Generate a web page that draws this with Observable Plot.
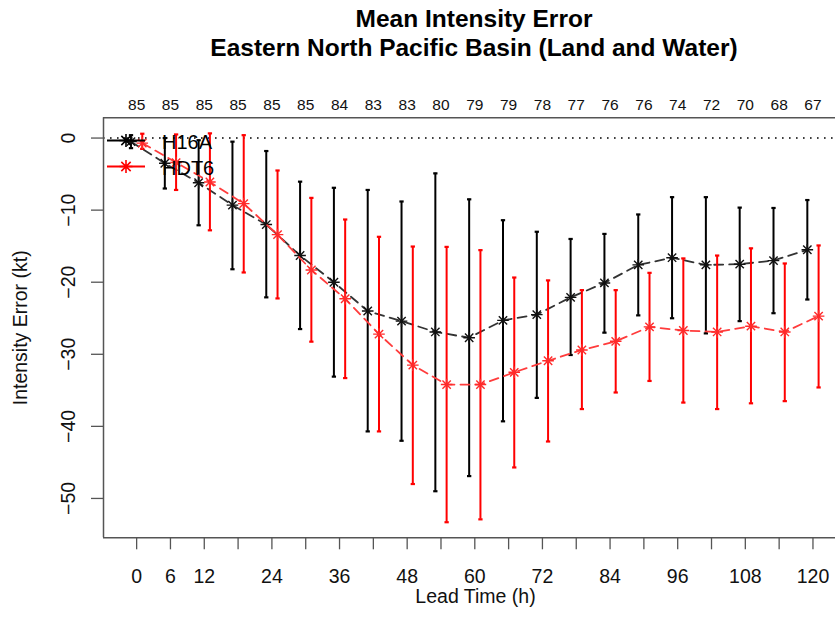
<!DOCTYPE html>
<html><head><meta charset="utf-8">
<script src="https://cdn.jsdelivr.net/npm/d3@7"></script>
<script src="https://cdn.jsdelivr.net/npm/@observablehq/plot@0.6"></script>
<style>
body{margin:0;background:#fff;font-family:"Liberation Sans",Arial,Helvetica,sans-serif}
#chart svg{display:block}
</style>
</head><body><div id="chart"></div>
<script>
// ---- data ----
const leadTimes = [0,6,12,18,24,30,36,42,48,54,60,66,72,78,84,90,96,102,108,114,120];
const caseCounts = [85,85,85,85,85,85,84,83,83,80,79,79,78,77,76,76,74,72,70,68,67];
const xTickLabels = [0,6,12,24,36,48,60,72,84,96,108,120];
const yTicks = [0,-10,-20,-30,-40,-50];

const h16aMean  = [-0.5,-3.5,-6.2,-9.3,-12.0,-16.3,-20.0,-24.0,-25.4,-26.9,-27.7,-25.3,-24.5,-22.1,-20.1,-17.6,-16.6,-17.6,-17.5,-17.0,-15.5];
const h16aUpper = [0.4,0.0,-0.3,-0.5,-1.8,-6.05,-6.9,-7.2,-8.8,-4.9,-8.5,-11.4,-13.0,-14.0,-13.3,-10.6,-8.2,-8.2,-9.65,-9.7,-8.6];
const h16aLower = [-1.4,-7.0,-12.1,-18.2,-22.1,-26.5,-33.1,-40.7,-42.0,-49.0,-46.9,-39.3,-36.05,-30.1,-27.0,-24.6,-25.0,-27.1,-25.4,-24.3,-22.4];

const hdt6Mean  = [-0.7,-3.4,-6.1,-9.1,-13.4,-18.3,-22.3,-27.2,-31.5,-34.2,-34.2,-32.5,-30.9,-29.4,-28.2,-26.2,-26.7,-26.9,-26.1,-26.9,-24.7];
const hdt6Upper = [0.6,0.5,0.65,0.4,-4.5,-8.3,-11.3,-13.7,-15.05,-15.1,-15.55,-19.35,-19.75,-21.1,-21.1,-18.7,-16.7,-16.3,-15.3,-17.4,-14.9];
const hdt6Lower = [-1.5,-7.2,-12.8,-18.65,-22.25,-28.25,-33.3,-40.7,-48.0,-53.3,-52.9,-45.7,-42.1,-37.6,-35.3,-33.7,-36.7,-37.6,-36.8,-36.5,-34.6];

const seriesNames = ["H16A","HDT6"];

// ---- styles ----
const styles = {
  H16A: {offset:-1, line:"#333333", star:"#111111", bar:"#000000"},
  HDT6: {offset: 1, line:"#ff3c3c", star:"#ff2a2a", bar:"#ff0000"}
};
const seriesData = {
  H16A: {mean:h16aMean, hi:h16aUpper, lo:h16aLower},
  HDT6: {mean:hdt6Mean, hi:hdt6Upper, lo:hdt6Lower}
};

// R pch=8 style star (+ and x)
const star8 = {
  draw(ctx, size) {
    const r = Math.sqrt(size / Math.PI);
    const d = r * 0.72;
    ctx.moveTo(-r, 0); ctx.lineTo(r, 0);
    ctx.moveTo(0, -r); ctx.lineTo(0, r);
    ctx.moveTo(-d, -d); ctx.lineTo(d, d);
    ctx.moveTo(-d, d); ctx.lineTo(d, -d);
  }
};

const rowsFor = name => leadTimes.map((t, i) => ({
  lead: t, x: t + styles[name].offset,
  mean: seriesData[name].mean[i], lo: seriesData[name].lo[i], hi: seriesData[name].hi[i]
}));

const W = 835, H = 635;
const marks = [];
marks.push(Plot.ruleY([0], {stroke:"#000", strokeWidth:1.6, strokeDasharray:"1.6,5.4"}));
for (const name of seriesNames) {
  const s = styles[name];
  const rows = rowsFor(name);
  marks.push(Plot.ruleX(rows, {x:"x", y1:"lo", y2:"hi", stroke:s.bar, strokeWidth:2}));
  marks.push(Plot.link(rows, {x1:d=>d.x-0.38, x2:d=>d.x+0.38, y1:"lo", y2:"lo", stroke:s.bar, strokeWidth:2.2}));
  marks.push(Plot.link(rows, {x1:d=>d.x-0.38, x2:d=>d.x+0.38, y1:"hi", y2:"hi", stroke:s.bar, strokeWidth:2.2}));
  marks.push(Plot.line(rows, {x:"x", y:"mean", stroke:s.line, strokeWidth:1.8, strokeDasharray:"9,6"}));
  marks.push(Plot.dot(rows, {x:"x", y:"mean", symbol:star8, r:5.8, stroke:s.star, strokeWidth:1.4, fill:"none"}));
}
// frame (left, top, bottom; right side is cut off)
marks.push(Plot.ruleY([2.81, -55.46], {stroke:"#555", strokeWidth:1.5}));
marks.push(Plot.ruleX([-5.88], {stroke:"#555", strokeWidth:1.5}));
// axes
marks.push(Plot.axisX({ticks: leadTimes, tickSize:12, tickPadding:19, fontSize:19.5, label:null,
  tickFormat: d => xTickLabels.includes(d) ? String(d) : "", stroke:"#555", strokeWidth:1.3, color:"#111"}));
marks.push(Plot.axisY({ticks: yTicks, tickSize:12, label:null, tickFormat: () => "", stroke:"#555", strokeWidth:1.3}));
marks.push(Plot.text(yTicks, {y: d => d, text: d => String(d).replace("-", "\u2212"), frameAnchor:"left", dx:-35,
  rotate:-90, textAnchor:"middle", lineAnchor:"middle", fontSize:19.5, fill:"#111"}));
// top counts
marks.push(Plot.text(leadTimes, {x: d => d, text: (d, i) => String(caseCounts[i]), frameAnchor:"top", dy:-13,
  lineAnchor:"middle", fontSize:15.5, fill:"#111"}));
// axis titles
marks.push(Plot.text(["Lead Time (h)"], {text: d => d, frameAnchor:"bottom", dx:6, dy:59, lineAnchor:"middle", fontSize:19.5, fill:"#111"}));
marks.push(Plot.text(["Intensity Error (kt)"], {text: d => d, frameAnchor:"left", dx:-83, rotate:-90, textAnchor:"middle", lineAnchor:"middle", fontSize:19.5, fill:"#111"}));

const plot = Plot.plot({
  width: W, height: H,
  marginLeft: 103, marginRight: 0, marginTop: 117.3, marginBottom: 97.7,
  style: {fontFamily: '"Liberation Sans", Arial, sans-serif', background:"#fff", overflow:"hidden"},
  x: {domain:[-5.88, 125.88], range:[103, 845.6]},
  y: {domain:[-55.46, 2.81]},
  marks
});
document.getElementById("chart").appendChild(plot);

// title and legend
const svg = d3.select(plot);
const titleLines = ["Mean Intensity Error", "Eastern North Pacific Basin (Land and Water)"];
svg.selectAll("text.title").data(titleLines).join("text").attr("class","title")
  .attr("x", 474).attr("y", (d,i) => 18 + i*29).attr("dy","0.35em")
  .attr("text-anchor","middle").attr("font-weight","bold").attr("font-size", 24.5).attr("fill","#000")
  .text(d => d);
const lg = svg.append("g");
seriesNames.forEach((name, i) => {
  const y = 140.5 + i*26;
  const s = styles[name];
  lg.append("line").attr("x1",107).attr("x2",145).attr("y1",y).attr("y2",y).attr("stroke", s.bar).attr("stroke-width",2);
  lg.append("path").attr("d", d3.symbol(star8, Math.PI*6.5*6.5)()).attr("transform",`translate(126,${y})`)
    .attr("stroke", s.bar).attr("stroke-width",1.6).attr("fill","none");
  lg.append("text").attr("x",162).attr("y",y+1.5).attr("dy","0.35em").attr("text-anchor","start")
    .attr("font-size",20).attr("fill","#000").text(name);
});
</script>
</body></html>
